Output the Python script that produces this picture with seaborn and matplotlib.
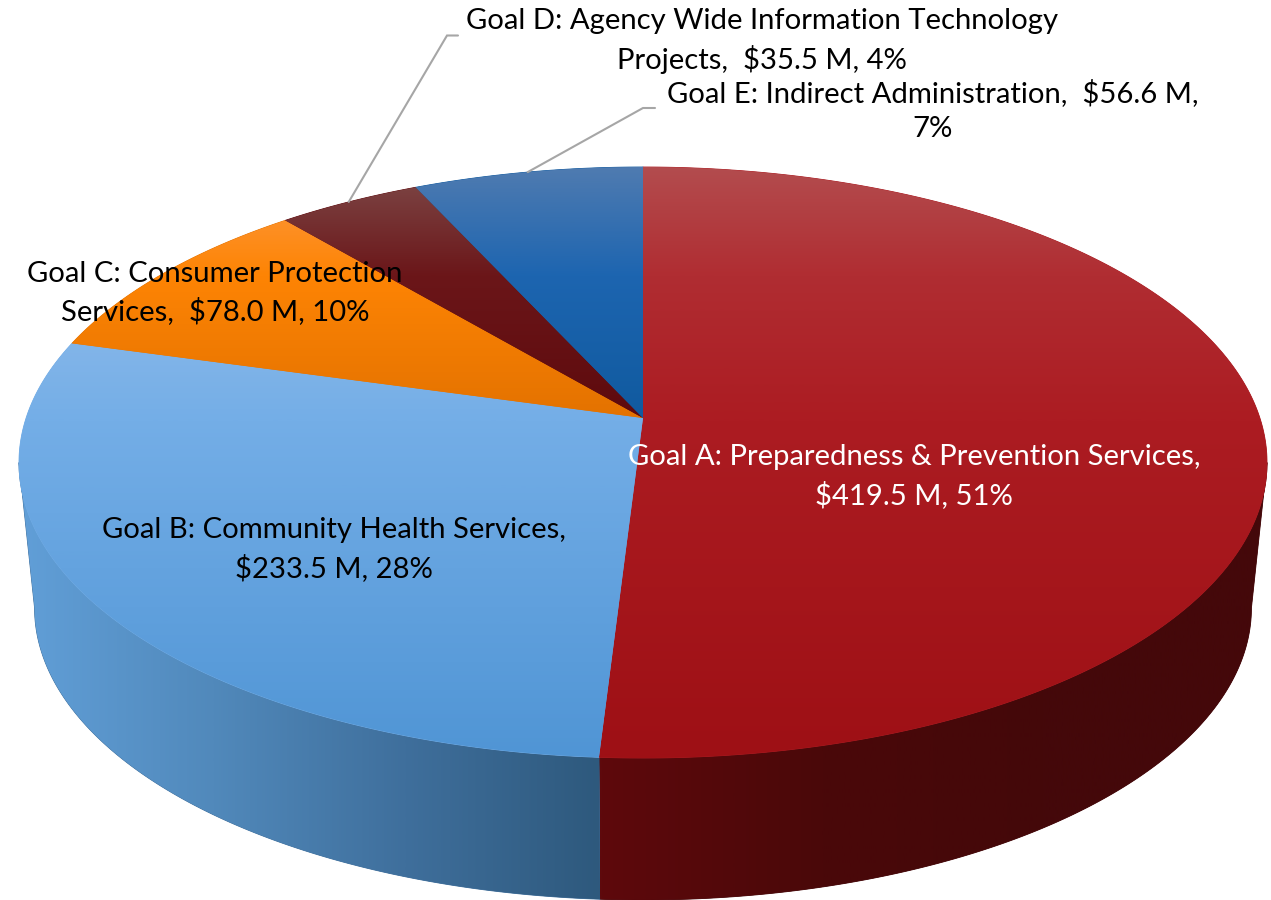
import numpy as np
import matplotlib
matplotlib.use("Agg")
import matplotlib.pyplot as plt
from matplotlib.path import Path
from matplotlib.patches import PathPatch
import seaborn as sns

# ---- data ----
goals = ["Goal A: Preparedness & Prevention Services,\n",
         "Goal B: Community Health Services,\n",
         "Goal C: Consumer Protection\nServices,  ",
         "Goal D: Agency Wide Information Technology\nProjects,  ",
         "Goal E: Indirect Administration,  "]
amounts = [419.5, 233.5, 78.0, 35.5, 56.6]
percents = [51, 28, 10, 4, 7]
text_colors = ["white", "black", "black", "black", "black"]

# ---- style / layout ----
top_stops = [167, 275, 420, 758]
top_grad = [["#b34c4e", "#b02d32", "#ac1c22", "#9e1015"],
            ["#96bfeb", "#8fbbea", "#74aee7", "#5095d5"],
            ["#fd9c48", "#fe8404", "#e37200", "#d06800"],
            ["#7e4a49", "#6b1619", "#5e0a0d", "#5a090c"],
            ["#4f7bb0", "#1d65b0", "#105a9f", "#0f5595"]]
side_grad = {0: ["#5e090c", "#4a0809", "#44080a", "#44080a"],
             1: ["#619fd8", "#5189bb", "#3f6f9c", "#2e597d"]}
cx, apex_y, a, b, k = 643.0, 418.0, 616.9, 288.8, 0.1506
mid_y, wall_scale_x, wall_scale_y, wall_y = 462.5, 0.975, 0.988, 608.0
label_xy = [(914, 476.5), (334, 549.5), (215, 293), (762, 41), (933, 110.5)]
leader_xy = {3: [(447, 35.5), (458, 35.5)], 4: [(643, 108), (655, 108)]}
W, H = 1271, 900

sns.set_theme(style="white")
plt.rcParams["font.family"] = ["Lato", "DejaVu Sans"]

fig = plt.figure(figsize=(W / 100, H / 100), dpi=100)
ax = fig.add_axes([0, 0, 1, 1])
ax.axis("off")


def top_xy(theta_deg):
    t = np.radians(theta_deg)
    u, v = np.sin(t), -np.cos(t)
    d = 1 - k * v
    return cx + a * u / d, apex_y + b * v / d


def low_xy(theta_deg):
    x, y = top_xy(theta_deg)
    return cx + wall_scale_x * (x - cx), wall_y + wall_scale_y * (y - mid_y)


def paint(xs, ys, colours, extent, vertical, zorder, stops=None):
    n = len(colours)
    cmap = sns.blend_palette(colours, n_colors=256, as_cmap=True)
    grad = np.linspace(0, 1, 768)
    if stops is not None:
        pos = np.interp(grad, (np.array(stops) - stops[0]) / (stops[-1] - stops[0]),
                        np.linspace(0, 1, n))
    else:
        pos = grad
    img = pos[:, None] if vertical else pos[None, :]
    verts = np.column_stack([xs, ys])
    path = Path(np.vstack([verts, verts[0]]), closed=True)
    ax.fill(xs, ys, color=colours[n // 2], lw=0.6, zorder=zorder)
    im = ax.imshow(img, cmap=cmap, extent=extent, aspect="auto", zorder=zorder + 0.1,
                   origin="upper", interpolation="bilinear", vmin=0, vmax=1)
    patch = PathPatch(path, transform=ax.transData, fc="none", ec="none")
    ax.add_patch(patch)
    im.set_clip_path(patch)


edges = np.concatenate([[0], np.cumsum(amounts)]) / np.sum(amounts) * 360.0
right_w, left_w = 180 - np.degrees(np.arccos(k)), 180 + np.degrees(np.arccos(k))

# side walls
wall_extent = {0: (600, 1267, 900, 0), 1: (19, 600, 900, 0)}
for i, (t0, t1) in {0: (right_w, edges[1]), 1: (edges[1], left_w)}.items():
    th = np.linspace(t0, t1, 240)
    xa, ya = top_xy(th)
    xb, yb = low_xy(th)
    paint(np.r_[xa, xb[::-1]], np.r_[ya, yb[::-1]], side_grad[i], wall_extent[i], False, 2)

# top face
for i in range(len(amounts)):
    th = np.linspace(edges[i], edges[i + 1], 300)
    xa, ya = top_xy(th)
    paint(np.r_[cx, xa], np.r_[apex_y, ya], top_grad[i], (0, W, 758, 167), True, 4, top_stops)

# labels
for i, (name, amt, pct) in enumerate(zip(goals, amounts, percents)):
    body = f"{name}${amt:.1f} M,"
    body += "\n" if i == 4 else " "
    ax.text(*label_xy[i], f"{body}{pct}%", color=text_colors[i], ha="center", va="center",
            fontsize=21.1, linespacing=1.45, zorder=8)

# leader lines
for i, pts in leader_xy.items():
    sx, sy = top_xy((edges[i] + edges[i + 1]) / 2)
    ax.plot([sx] + [p[0] for p in pts], [sy] + [p[1] for p in pts],
            color="#a6a6a6", lw=1.5, zorder=7, solid_joinstyle="miter")

ax.set_xlim(0, W)
ax.set_ylim(H, 0)
fig.savefig("out.png", dpi=100, facecolor="white")
